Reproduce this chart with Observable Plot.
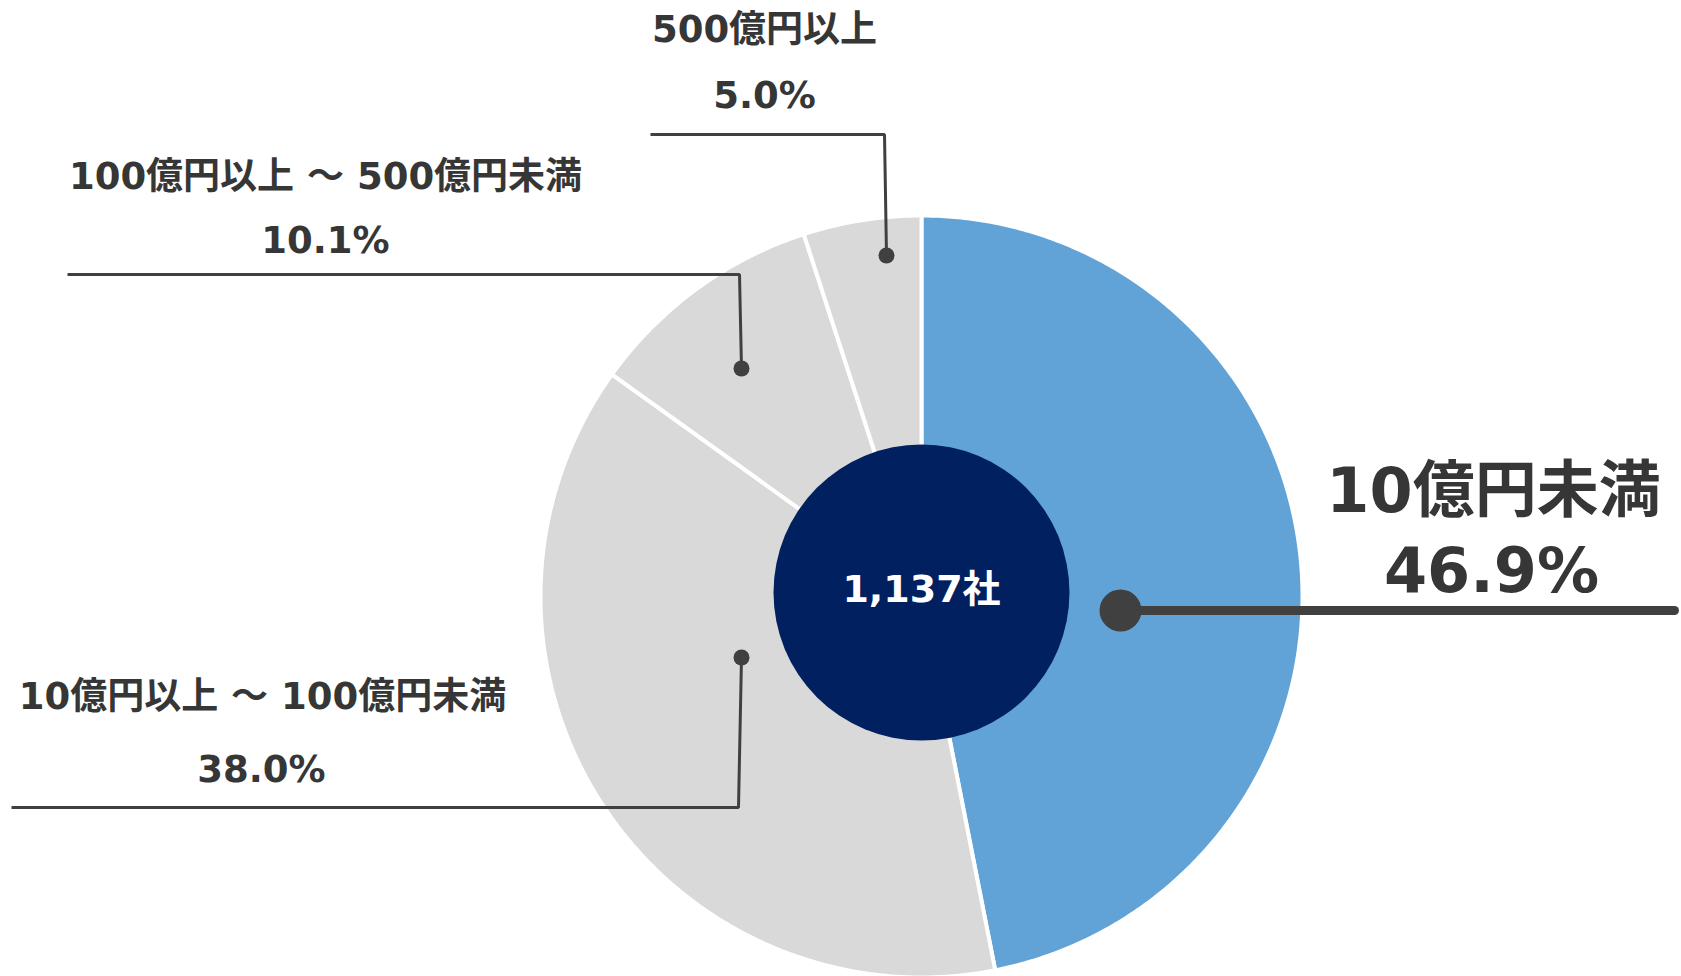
<!DOCTYPE html>
<html lang="ja">
<head>
<meta charset="utf-8">
<script src="https://cdn.jsdelivr.net/npm/d3@7"></script>
<script src="https://cdn.jsdelivr.net/npm/@observablehq/plot@0.6"></script>
<style>
  html, body { margin: 0; padding: 0; background: #ffffff; }
  #chart svg { display: block; }
</style>
</head>
<body>
<div id="chart"></div>
<script>
// ---------- data ----------
const categories = ["10億円未満", "10億円以上 ～ 100億円未満", "100億円以上 ～ 500億円未満", "500億円以上"];
const shares = [46.9, 38.0, 10.1, 5.0];
const shareLabels = ["46.9%", "38.0%", "10.1%", "5.0%"];
const centerLabel = "1,137社";

// ---------- style / layout (pixel space) ----------
const W = 1681, H = 976;
const pie = {cx: 921, cy: 596, r: 381, holeX: 921, holeY: 592, hole: 148};
const sliceColors = ["#62a3d7", "#d9d9d9", "#d9d9d9", "#d9d9d9"];
const textColor = "#363636";
const lineColor = "#404040";
const fontFamily = "'DejaVu Sans', 'Noto Sans CJK JP', sans-serif";
// label layout per category: name pos, value pos, leader path, dot, sizes
const layout = [
  {name: [1493, 492], value: [1491, 572], size: 62, path: [[1120, 610], [1674, 610]], dot: [1120, 610], dotR: 21, sw: 9},
  {name: [262, 697], value: [261, 770], size: 37, path: [[11, 807], [738, 807], [741, 657]], dot: [741, 657], dotR: 8, sw: 3},
  {name: [325, 177], value: [325, 241], size: 37, path: [[67, 274], [739, 274], [741, 368]], dot: [741, 368], dotR: 8, sw: 3},
  {name: [764, 30], value: [764, 96], size: 37, path: [[650, 134], [884, 134], [886, 255]], dot: [886, 255], dotR: 8, sw: 3}
];

// ---------- geometry from data ----------
const arcs = d3.pie().sort(null).value(d => d)(shares);
function slicePoints(a) {
  const pts = [[pie.cx, pie.cy]];
  const n = Math.max(4, Math.ceil((a.endAngle - a.startAngle) / (Math.PI / 360)));
  for (let i = 0; i <= n; i++) {
    const t = a.startAngle + (a.endAngle - a.startAngle) * i / n;
    pts.push([pie.cx + pie.r * Math.sin(t), pie.cy - pie.r * Math.cos(t)]);
  }
  pts.push([pie.cx, pie.cy]);
  return pts;
}

const marks = [];
arcs.forEach((a, i) => {
  marks.push(Plot.line(slicePoints(a), {
    x: d => d[0], y: d => d[1],
    fill: sliceColors[i], stroke: "#ffffff", strokeWidth: 4, strokeLinejoin: "round"
  }));
});
// centre hole
marks.push(Plot.dot([[pie.holeX, pie.holeY]], {x: d => d[0], y: d => d[1], r: pie.hole, fill: "#002060", stroke: "none"}));
marks.push(Plot.text([centerLabel], {x: () => pie.holeX, y: () => pie.holeY - 3, text: d => d, fill: "#ffffff",
  fontSize: 38, fontWeight: "bold", fontFamily}));

// leaders and labels
categories.forEach((c, i) => {
  const L = layout[i];
  marks.push(Plot.line(L.path, {x: d => d[0], y: d => d[1], stroke: lineColor, strokeWidth: L.sw,
    strokeLinecap: i === 0 ? "round" : "butt", strokeLinejoin: "miter"}));
  marks.push(Plot.dot([L.dot], {x: d => d[0], y: d => d[1], r: L.dotR, fill: lineColor, stroke: "none"}));
  marks.push(Plot.text([c], {x: () => L.name[0], y: () => L.name[1], text: d => d, fill: textColor,
    fontSize: L.size, fontWeight: "bold", fontFamily}));
  marks.push(Plot.text([shareLabels[i]], {x: () => L.value[0], y: () => L.value[1], text: d => d, fill: textColor,
    fontSize: L.size, fontWeight: "bold", fontFamily}));
});

const chart = Plot.plot({
  width: W, height: H,
  margin: 0,
  x: {domain: [0, W], range: [0, W], axis: null},
  y: {domain: [0, H], range: [0, H], axis: null},
  style: {background: "#ffffff", overflow: "visible"},
  marks
});
document.getElementById("chart").append(chart);
</script>
</body>
</html>
